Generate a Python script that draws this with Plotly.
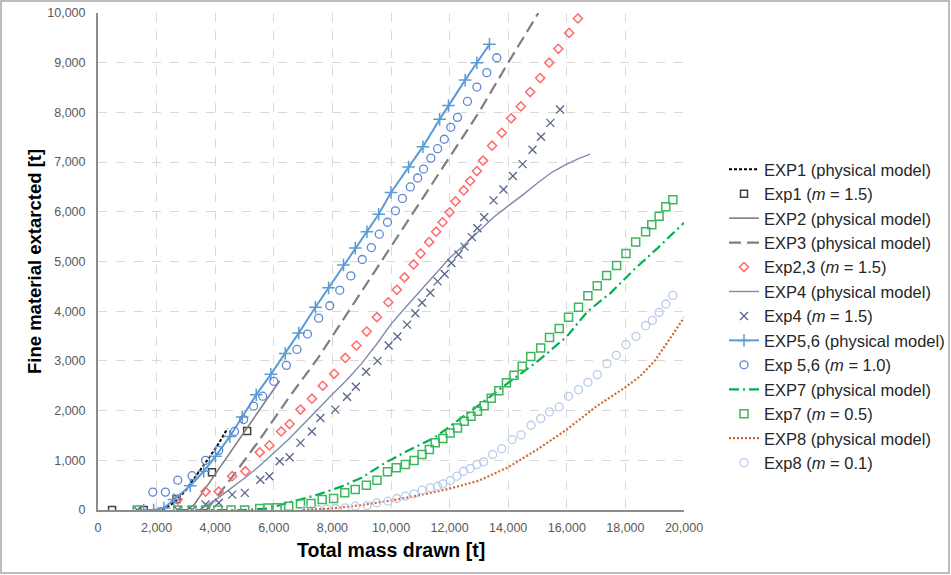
import plotly.graph_objects as go

# ---- data: total mass drawn [t] vs fine material extracted [t] ----
exp1_model_x = [2200, 2600, 3000, 3400, 3800, 4100, 4420]
exp1_model_y = [0, 150, 400, 720, 1060, 1320, 1640]
exp1_x = [480, 1560, 2680, 3890, 5090]
exp1_y = [0, 0, 220, 760, 1590]

exp2_model_x = [3050, 3300, 3600, 4000, 4500, 5000, 5500, 6200]
exp2_model_y = [0, 120, 380, 720, 1130, 1560, 1990, 2600]
exp3_model_x = [3700, 4500, 5500, 6500, 7500, 8500, 9500, 10800, 11900, 13000, 14000, 15030]
exp3_model_y = [0, 600, 1400, 2250, 3050, 3950, 4850, 6000, 7000, 8000, 9000, 10000]
exp23_x = [2720, 3670, 4120, 4580, 5030, 5520, 5850, 6250, 6540, 6910, 7300, 7670, 8060,
           8440, 8820, 9170, 9520, 9910, 10200, 10460, 10770, 11010, 11300, 11540, 11760,
           12000, 12200, 12480, 12700, 12930, 13140, 13450, 13780, 14100, 14430, 14750,
           15090, 15400, 15710, 16080, 16380]
exp23_y = [210, 370, 370, 680, 780, 1160, 1300, 1580, 1730, 2020, 2240, 2500, 2740,
           3060, 3310, 3590, 3880, 4180, 4430, 4680, 4940, 5160, 5390, 5600, 5790,
           5990, 6210, 6430, 6620, 6820, 7030, 7330, 7590, 7880, 8120, 8410,
           8690, 9000, 9280, 9600, 9890]

exp4_model_x = [3450, 4000, 4500, 5000, 5500, 6000, 6500, 7000, 7500, 8000, 8500, 9000, 9500,
                10000, 10500, 11000, 11500, 12000, 12500, 13000, 13500, 14000, 14500, 15000,
                15500, 16000, 16400, 16800]
exp4_model_y = [0, 200, 420, 640, 880, 1150, 1420, 1720, 2030, 2330, 2620, 2950, 3330,
                3740, 4080, 4420, 4740, 5070, 5330, 5610, 5890, 6120, 6340, 6580,
                6800, 6960, 7070, 7160]
exp4_x = [1340, 2720, 3210, 3670, 4120, 4580, 5010, 5540, 5850, 6200, 6540, 6910, 7300, 7590,
          8100, 8500, 8800, 9150, 9540, 9920, 10220, 10550, 10830, 11060, 11340, 11590, 11830,
          12060, 12300, 12510, 12760, 12950, 13180, 13500, 13840, 14160, 14490, 14830, 15120,
          15440, 15770]
exp4_y = [0, 0, 0, 110, 145, 310, 345, 610, 680, 980, 1060, 1350, 1580, 1850,
          2020, 2280, 2480, 2780, 3000, 3310, 3490, 3730, 3960, 4170, 4370, 4600, 4750,
          4970, 5140, 5300, 5490, 5670, 5890, 6230, 6450, 6720, 6960, 7250, 7510,
          7790, 8060]

exp56_model_x = [1560, 1900, 2250, 2590, 3150, 3610, 4010, 4500, 4920, 5400, 5900, 6390, 6850,
                 7420, 7870, 8380, 8780, 9180, 9580, 10000, 10600, 11090, 11660, 11960, 12530,
                 12930, 13360]
exp56_model_y = [0, 0, 40, 210, 490, 780, 1080, 1480, 1870, 2320, 2730, 3150, 3560,
                 4080, 4470, 4930, 5270, 5600, 5950, 6390, 6900, 7310, 7860, 8140, 8650,
                 9000, 9370]
exp56_x = [1870, 2300, 2720, 3210, 3670, 4120, 4660, 4970, 5310, 5620, 6000, 6430, 6790, 7150,
           7530, 7910, 8250, 8630, 9020, 9330, 9600, 9880, 10150, 10390, 10660, 10910, 11110,
           11360, 11590, 11820, 12040, 12270, 12610, 12930, 13270, 13610]
exp56_y = [360, 360, 600, 690, 1000, 1200, 1580, 1820, 2090, 2290, 2590, 2910, 3230, 3540,
           3860, 4110, 4420, 4710, 5040, 5280, 5550, 5790, 6020, 6270, 6500, 6680, 6860,
           7080, 7270, 7460, 7700, 7900, 8220, 8510, 8800, 9100]

exp7_model_x = [2700, 5000, 5800, 6200, 6700, 7500, 8300, 9000, 9800, 10500, 11500, 12250, 13000,
                14000, 15000, 16000, 16700, 17500, 18300, 19100, 20000]
exp7_model_y = [0, 0, 30, 100, 180, 310, 470, 650, 950, 1170, 1460, 1790, 2110,
                2560, 2990, 3490, 3990, 4370, 4840, 5270, 5780]
exp7_x = [1340, 2720, 3210, 3670, 4090, 4540, 5010, 5520, 5800, 6111, 6510, 6910, 7270, 7650,
          8040, 8420, 8780, 9160, 9520, 9880, 10180, 10490, 10790, 11060, 11310, 11510, 11770,
          12020, 12270, 12500, 12730, 12950, 13180, 13420, 13680, 13940, 14200, 14480, 14770,
          15110, 15410, 15740, 16060, 16400, 16720, 17040, 17360, 17700, 18020, 18350, 18690,
          18900, 19150, 19380, 19620]
exp7_y = [0, 0, 0, 0, 0, 0, 0, 30, 40, 44, 76, 125, 131, 211,
          230, 346, 412, 499, 599, 768, 848, 915, 995, 1116, 1216, 1351, 1437,
          1551, 1652, 1785, 1886, 1986, 2100, 2250, 2400, 2560, 2710, 2890, 3090,
          3260, 3470, 3650, 3880, 4080, 4310, 4510, 4720, 4920, 5160, 5390, 5600,
          5740, 5910, 6100, 6240]

exp8_model_x = [7000, 8000, 9000, 10000, 11000, 12000, 13000, 14000, 15000, 16000, 17000, 18000,
                18500, 19000, 19500, 20000]
exp8_model_y = [0, 30, 100, 190, 300, 430, 590, 860, 1220, 1620, 2080, 2470,
                2690, 3000, 3430, 3870]
exp8_x = [7100, 7500, 7800, 8100, 8440, 8780, 9180, 9520, 9900, 10200, 10490, 10790, 11060,
          11340, 11590, 11770, 12020, 12250, 12480, 12700, 12930, 13160, 13470, 13780, 14130,
          14440, 14780, 15110, 15410, 15740, 16060, 16400, 16720, 17040, 17370, 17690, 18020,
          18360, 18690, 18920, 19150, 19380, 19620]
exp8_y = [0, 10, 20, 30, 44, 76, 90, 145, 177, 231, 278, 326, 398,
          446, 478, 526, 593, 680, 780, 834, 915, 970, 1116, 1233, 1417,
          1511, 1705, 1839, 1974, 2074, 2288, 2422, 2569, 2724, 2945, 3112, 3330,
          3494, 3709, 3816, 3977, 4145, 4318]

x_ticks = list(range(0, 20001, 2000))
y_ticks = list(range(0, 10001, 1000))

# ---- figure geometry (pixels) ----
W, H = 951, 575
L, R, T, B = 98, 267, 13, 65
PW, PH = W - L - R, H - T - B


def px_x(p):
    return (p - L) / PW


def px_y(p):
    return (H - B - p) / PH


FONT = "Liberation Sans, Arial, sans-serif"

fig = go.Figure()


def line_trace(name, x, y, color, width, dash="solid", marker=None):
    kw = dict(x=x, y=y, name=name, legendgroup=name,
              line=dict(color=color, width=width, dash=dash))
    if marker:
        kw["mode"] = "lines+markers"
        kw["marker"] = marker
    else:
        kw["mode"] = "lines"
    fig.add_trace(go.Scatter(**kw))


def marker_trace(name, x, y, color, symbol, size, lw):
    fig.add_trace(go.Scatter(
        x=x, y=y, name=name, legendgroup=name, mode="markers",
        marker=dict(symbol=symbol, size=size, color=color,
                    line=dict(color=color, width=lw))))


line_trace("EXP1 (physical model)", exp1_model_x, exp1_model_y, "#000000", 2, "3px,2px")
marker_trace("Exp1 (<i>m</i> = 1.5)", exp1_x, exp1_y, "#404040", "square-open", 7, 1.5)
line_trace("EXP2 (physical model)", exp2_model_x, exp2_model_y, "#7f7f7f", 1.6)
line_trace("EXP3 (physical model)", exp3_model_x, exp3_model_y, "#7f7f7f", 2.2, "12px,6px")
marker_trace("Exp2,3 (<i>m</i> = 1.5)", exp23_x, exp23_y, "#ff6b6b", "diamond-open", 7, 1.5)
line_trace("EXP4 (physical model)", exp4_model_x, exp4_model_y, "#7f8cab", 1.4)
marker_trace("Exp4 (<i>m</i> = 1.5)", exp4_x, exp4_y, "#56668a", "x-thin-open", 8, 1.3)
line_trace("EXP5,6 (physical model)", exp56_model_x, exp56_model_y, "#5b9bd5", 2,
           marker=dict(symbol="cross-thin-open", size=9, color="#5b9bd5",
                       line=dict(color="#5b9bd5", width=1.5)))
marker_trace("Exp 5,6 (<i>m</i> = 1.0)", exp56_x, exp56_y, "#5e86d6", "circle-open", 8, 1.3)
line_trace("EXP7 (physical model)", exp7_model_x, exp7_model_y, "#00b050", 2.2,
           "10px,4px,2px,4px")
marker_trace("Exp7 (<i>m</i> = 0.5)", exp7_x, exp7_y, "#3cb75c", "square-open", 8, 1.5)
line_trace("EXP8 (physical model)", exp8_model_x, exp8_model_y, "#d2692a", 2.2, "2px,2px")
marker_trace("Exp8 (<i>m</i> = 0.1)", exp8_x, exp8_y, "#b8cbea", "circle-open", 8, 1.3)

axis_common = dict(
    showgrid=True, gridcolor="#d9d9d9", gridwidth=1, griddash="dash",
    showline=True, linecolor="#8c8c8c", linewidth=2, mirror=False,
    zeroline=False, ticks="", tickformat=",",
    tickfont=dict(family=FONT, size=12.5, color="#595959"),
)

fig.update_xaxes(range=[0, 20000], tickvals=x_ticks, ticklabelstandoff=5, **axis_common)
fig.update_yaxes(range=[0, 10000], tickvals=y_ticks, ticklabelstandoff=8, **axis_common)

fig.update_layout(
    width=W, height=H,
    margin=dict(l=L, r=R, t=T, b=B, pad=0, autoexpand=False),
    paper_bgcolor="white", plot_bgcolor="white",
    font=dict(family=FONT, color="#262626"),
    showlegend=True,
    legend=dict(x=px_x(724), y=px_y(152), xanchor="left", yanchor="top",
                font=dict(family=FONT, size=16.5, color="#262626"),
                bgcolor="rgba(0,0,0,0)", borderwidth=0,
                tracegroupgap=0, itemwidth=30),
    annotations=[
        dict(text="<b>Total mass drawn [t]</b>", xref="paper", yref="paper",
             x=px_x(391), y=px_y(550), xanchor="center", yanchor="middle",
             showarrow=False, font=dict(family=FONT, size=19.5, color="#000000")),
        dict(text="<b>Fine material extarcted [t]</b>", xref="paper", yref="paper",
             x=px_x(34), y=px_y(262), xanchor="center", yanchor="middle",
             textangle=-90, showarrow=False,
             font=dict(family=FONT, size=18.5, color="#000000")),
    ],
    shapes=[
        dict(type="rect", xref="paper", yref="paper",
             x0=px_x(1), x1=px_x(949), y0=px_y(573), y1=px_y(1),
             line=dict(color="#a6a6a6", width=1.5), fillcolor="rgba(0,0,0,0)",
             layer="below"),
    ],
)

fig.write_html("out.html")
